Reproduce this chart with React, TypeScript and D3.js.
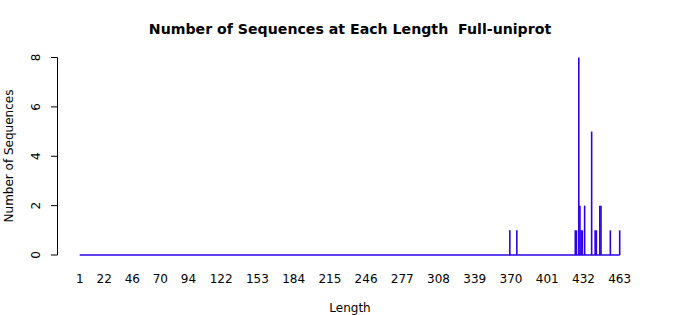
import React from "react";
import * as d3 from "d3";

const lengths = [369, 375, 425, 426, 428, 429, 430, 431, 433, 439, 442, 443, 446, 447, 455, 463];
const counts = [1, 1, 1, 1, 8, 2, 1, 1, 2, 5, 1, 1, 2, 2, 1, 1];
const xTickLabels = [1, 22, 46, 70, 94, 122, 153, 184, 215, 246, 277, 308, 339, 370, 401, 432, 463];
const yTicks = [0, 2, 4, 6, 8];

const W = 700;
const H = 315;
const FONT = "DejaVu Sans, sans-serif";
const COLOR = "#2c00e8";

export default function App() {
  const x = d3.scaleLinear().domain([1, 463]).range([79.7, 619.7]);
  const y = d3.scaleLinear().domain([0, 8]).range([255, 57.5]);

  return (
    <svg width={W} height={H} style={{ display: "block", position: "absolute", left: 0, top: 0 }} fontFamily={FONT}>
      <rect x={0} y={0} width={W} height={H} fill="#fff" />
      <text x={350} y={34} textAnchor="middle" fontWeight="bold" fontSize={14.15} style={{ whiteSpace: "pre" }}>
        {"Number of Sequences at Each Length  Full-uniprot"}
      </text>
      {/* baseline */}
      <line x1={x(1)} x2={x(463)} y1={y(0)} y2={y(0)} stroke={COLOR} strokeWidth={1.3} />
      {lengths.map((l, i) => (
        <line key={i} x1={x(l)} x2={x(l)} y1={y(0)} y2={y(counts[i])} stroke={COLOR} strokeWidth={1.6} />
      ))}
      {/* y axis */}
      <line x1={57.5} x2={57.5} y1={y(0)} y2={y(8)} stroke="#000" strokeWidth={1} />
      {yTicks.map((t) => (
        <g key={t}>
          <line x1={51} x2={57.5} y1={y(t)} y2={y(t)} stroke="#000" strokeWidth={1} />
          <text
            transform={`translate(40,${y(t)}) rotate(-90)`}
            textAnchor="middle"
            fontSize={12}
          >
            {t}
          </text>
        </g>
      ))}
      <text transform={`translate(13,156) rotate(-90)`} textAnchor="middle" fontSize={12}>
        Number of Sequences
      </text>
      {xTickLabels.map((t) => (
        <text key={t} x={x(t)} y={283} textAnchor="middle" fontSize={12}>
          {t}
        </text>
      ))}
      <text x={350} y={312} textAnchor="middle" fontSize={12}>
        Length
      </text>
    </svg>
  );
}
